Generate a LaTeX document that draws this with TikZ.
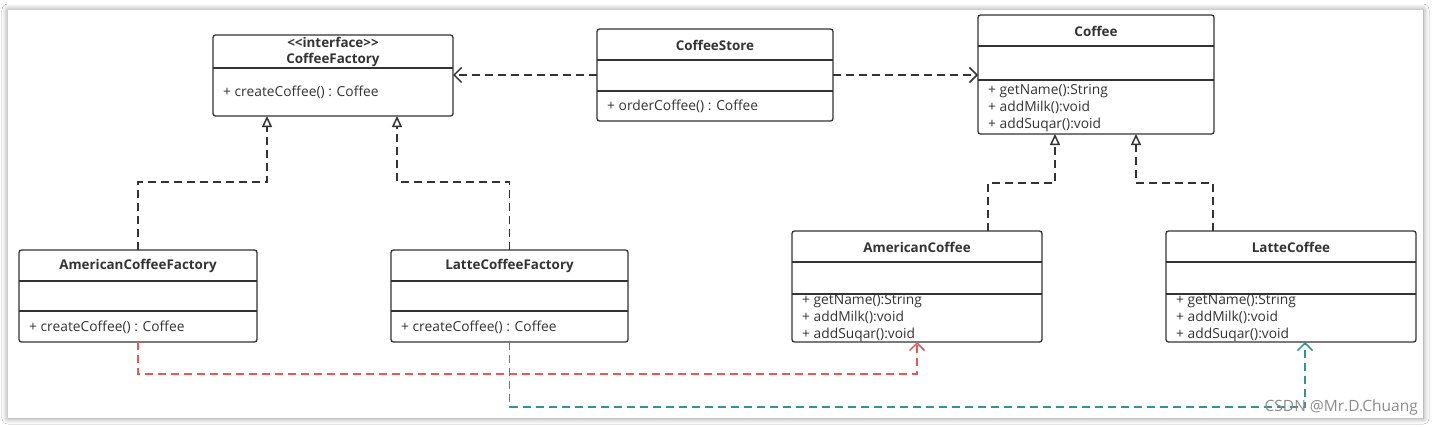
\documentclass[tikz,border=0pt]{standalone}
\usepackage{fontspec}
\setmainfont{Open Sans}
\usetikzlibrary{arrows.meta,shadows.blur,calc}
\definecolor{ink}{HTML}{333333}
\definecolor{redc}{HTML}{E85656}
\definecolor{tealc}{HTML}{2E9592}
\definecolor{wm}{HTML}{8C8C8C}
\begin{document}
\begin{tikzpicture}[x=1pt,y=-1pt,
 cls/.style={draw=ink, line width=1.3pt, rounded corners=2.5pt, inner sep=0pt, outer sep=0pt, anchor=north west, fill=white},
 ttl/.style={font=\fontsize{13.4}{16}\selectfont\bfseries, text=ink, inner sep=0pt, align=center},
 mth/.style={font=\fontsize{13.8}{16.7}\selectfont, text=ink, inner sep=0pt, anchor=west, align=left},
 div/.style={draw=ink, line width=1.1pt},
 dep/.style={draw=ink, line width=1.5pt, dash pattern=on 8pt off 5pt, -{Straight Barb[length=7.5pt,width=15pt,line width=1.5pt]}},
 real/.style={draw=ink, line width=1.5pt, dash pattern=on 8pt off 5pt, -{Triangle[open,length=11pt,width=10pt,line width=1.5pt]}},
 redl/.style={draw=redc, line width=1.5pt, dash pattern=on 8pt off 5pt, -{Straight Barb[length=7.5pt,width=15pt,line width=1.5pt]}},
 teall/.style={draw=tealc, line width=1.5pt, dash pattern=on 8pt off 5pt, -{Straight Barb[length=7.5pt,width=15pt,line width=1.5pt]}},
]
\fill[white] (0,0) rectangle (1434,426);
\useasboundingbox (0,0) rectangle (1434,426);
\fill[white, blur shadow={shadow blur steps=10, shadow xshift=0pt, shadow yshift=0pt, shadow blur radius=6pt, shadow opacity=45}] (8,10) rectangle (1423,418);

% CoffeeFactory
\node[cls, minimum width=240pt, minimum height=81pt] (cf) at (213,35) {};
\draw[div] ($(cf.north west)+(0,33)$) -- ($(cf.north east)+(0,33)$);
\node[ttl] (cft) at (333,52) {{<}{<}interface{>}{>}\\CoffeeFactory};
\node[mth] (cfm) at (223,92) {+ createCoffee() : Coffee};

% CoffeeStore
\node[cls, minimum width=236pt, minimum height=92pt] (store) at (597,29) {};
\draw[div] ($(store.north west)+(0,31)$) -- ($(store.north east)+(0,31)$);
\draw[div] ($(store.north west)+(0,62)$) -- ($(store.north east)+(0,62)$);
\node[ttl] (stt) at (715,45) {CoffeeStore};
\node[mth] (stm) at (607,106) {+ orderCoffee() : Coffee};

% Coffee
\node[cls, minimum width=236pt, minimum height=119pt] (coffee) at (978,15) {};
\draw[div] ($(coffee.north west)+(0,31)$) -- ($(coffee.north east)+(0,31)$);
\draw[div] ($(coffee.north west)+(0,65)$) -- ($(coffee.north east)+(0,65)$);
\node[ttl] (cot) at (1096,31) {Coffee};
\node[mth] (com) at (988,108) {+ getName():String\\+ addMilk():void\\+ addSuqar():void};

% AmericanCoffeeFactory
\node[cls, minimum width=238pt, minimum height=92pt] (acf) at (19,250) {};
\draw[div] ($(acf.north west)+(0,31)$) -- ($(acf.north east)+(0,31)$);
\draw[div] ($(acf.north west)+(0,61)$) -- ($(acf.north east)+(0,61)$);
\node[ttl] (acft) at (138,266) {AmericanCoffeeFactory};
\node[mth] (acfm) at (29,327) {+ createCoffee() : Coffee};

% LatteCoffeeFactory
\node[cls, minimum width=237pt, minimum height=92pt] (lcf) at (391,250) {};
\draw[div] ($(lcf.north west)+(0,31)$) -- ($(lcf.north east)+(0,31)$);
\draw[div] ($(lcf.north west)+(0,61)$) -- ($(lcf.north east)+(0,61)$);
\node[ttl] (lcft) at (509.5,266) {LatteCoffeeFactory};
\node[mth] (lcfm) at (401,327) {+ createCoffee() : Coffee};

% AmericanCoffee
\node[cls, minimum width=250pt, minimum height=111pt] (ac) at (792,231) {};
\draw[div] ($(ac.north west)+(0,31)$) -- ($(ac.north east)+(0,31)$);
\draw[div] ($(ac.north west)+(0,63)$) -- ($(ac.north east)+(0,63)$);
\node[ttl] (act) at (917,247) {AmericanCoffee};
\node[mth] (acm) at (802,318) {+ getName():String\\+ addMilk():void\\+ addSuqar():void};

% LatteCoffee
\node[cls, minimum width=250pt, minimum height=111pt] (lc) at (1166,231) {};
\draw[div] ($(lc.north west)+(0,31)$) -- ($(lc.north east)+(0,31)$);
\draw[div] ($(lc.north west)+(0,63)$) -- ($(lc.north east)+(0,63)$);
\node[ttl] (lct) at (1291,247) {LatteCoffee};
\node[mth] (lcm) at (1176,318) {+ getName():String\\+ addMilk():void\\+ addSuqar():void};

% dependencies of CoffeeStore
\draw[dep] (store.west) -- (store.west -| cf.east);
\draw[dep] (store.east) -- (store.east -| coffee.west);

% realizations
\draw[real] (acf.north) -- ++(0,-68) -| ($(cf.south)+(-66,0)$);
\draw[real] (lcf.north) -- ++(0,-68) -| ($(cf.south)+(64,0)$);
\draw[real] ($(ac.north)+(71,0)$) -- ++(0,-48) -| ($(coffee.south)+(-41,0)$);
\draw[real] ($(lc.north)+(-78,0)$) -- ++(0,-48) -| ($(coffee.south)+(40,0)$);

% creation dependencies
\draw[redl] (acf.south) -- ++(0,32) -| (ac.south);
\draw[teall] (lcf.south) -- ++(0,65) -| ($(lc.south)+(14,0)$);

% watermark
\node[font=\fontsize{15.5}{18}\selectfont, text=wm, anchor=east, inner sep=0pt] (wmk) at (1418,407) {CSDN @Mr.D.Chuang};
\end{tikzpicture}
\end{document}
